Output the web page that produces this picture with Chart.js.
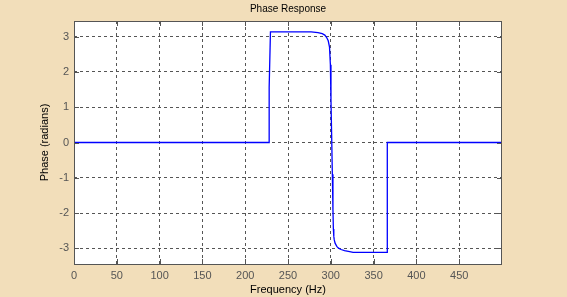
<!DOCTYPE html>
<html>
<head>
<meta charset="utf-8">
<script src="https://cdn.jsdelivr.net/npm/chart.js@4"></script>
<style>
  html, body { margin:0; padding:0; background:#F2DEBA; }
  #wrap { width:567px; height:297px; }
</style>
</head>
<body>
<div id="wrap"><canvas id="phaseChart" width="567" height="297"></canvas></div>
<script>
// Phase response (Hz, radians)
const freqHz = [0, 228, 228, 229.5, 277, 285, 290, 293, 295, 297, 298.5, 299.5, 300.2, 301, 301.8, 302.5, 303, 303.5, 304, 305, 307, 309, 312, 316, 322, 326, 366, 366, 500];
const phaseRad = [0, 0, 1.56, 3.13, 3.13, 3.11, 3.08, 3.04, 2.98, 2.88, 2.7, 2.2, 1.2, 0.2, -0.9, -1.9, -2.45, -2.65, -2.75, -2.85, -2.94, -2.99, -3.03, -3.06, -3.09, -3.11, -3.11, 0, 0];
const xTicks = [0, 50, 100, 150, 200, 250, 300, 350, 400, 450];
const yTicks = [-3, -2, -1, 0, 1, 2, 3];

const FONT = 'Liberation Sans, Arial, sans-serif';

// white axes background
const plotBg = {
  id: 'plotBg',
  beforeDraw(chart){
    const {ctx, chartArea:a} = chart;
    ctx.save(); ctx.fillStyle = '#fff';
    ctx.fillRect(a.left, a.top, a.right-a.left, a.bottom-a.top);
    ctx.restore();
  }
};

// box round the plot with matlab style inward tick marks
const frame = {
  id: 'frame',
  afterDraw(chart){
    const {ctx, chartArea:a, scales} = chart;
    ctx.save();
    ctx.strokeStyle = '#555'; ctx.lineWidth = 1;
    ctx.strokeRect(Math.round(a.left)+0.5, Math.round(a.top)+0.5, Math.round(a.right-a.left)-1, Math.round(a.bottom-a.top));
    ctx.beginPath();
    xTicks.forEach(v=>{
      const px = Math.round(scales.x.getPixelForValue(v))+0.5;
      ctx.moveTo(px, a.bottom); ctx.lineTo(px, a.bottom-5);
      ctx.moveTo(px, a.top); ctx.lineTo(px, a.top+5);
    });
    yTicks.forEach(v=>{
      const py = Math.round(scales.y.getPixelForValue(v))+0.5;
      ctx.moveTo(a.left, py); ctx.lineTo(a.left+5, py);
      ctx.moveTo(a.right, py); ctx.lineTo(a.right-5, py);
    });
    ctx.stroke();
    ctx.restore();
  }
};

const gridOpts = { color:'#555', drawTicks:false, lineWidth:1 };

new Chart(document.getElementById('phaseChart').getContext('2d'), {
  type: 'scatter',
  data: {
    datasets: [{
      data: freqHz.map((f,i)=>({ x:f, y:phaseRad[i] })),
      showLine: true,
      borderColor: '#0000FF',
      borderWidth: 1.3,
      pointRadius: 0,
      tension: 0
    }]
  },
  options: {
    responsive: false,
    animation: false,
    layout: { padding: { left:9, right:0, top:0, bottom:0 } },
    plugins: {
      legend: { display:false },
      tooltip: { enabled:false },
      title: {
        display: true, text: 'Phase Response', color:'#000',
        font: { family:FONT, size:10, weight:'normal' },
        padding: { top:3, bottom:6 }
      }
    },
    scales: {
      x: {
        type: 'linear', min:0, max:500,
        afterBuildTicks: s => { s.ticks = xTicks.map(v=>({ value:v })); },
        afterFit: s => { s.height = 33; },
        grid: gridOpts,
        border: { display:false, dash:[3,3] },
        ticks: { color:'#555', padding:5, font:{ family:FONT, size:11 }, maxRotation:0 },
        title: { display:true, text:'Frequency (Hz)', color:'#000', font:{ family:FONT, size:11 }, padding:{ top:0, bottom:0 } }
      },
      y: {
        type: 'linear', min:-3.44, max:3.44,
        afterBuildTicks: s => { s.ticks = yTicks.map(v=>({ value:v })); },
        afterFit: s => { s.width = 65; },
        grid: gridOpts,
        border: { display:false, dash:[3,3] },
        ticks: { color:'#555', padding:5, font:{ family:FONT, size:11 } },
        title: { display:true, text:'Phase (radians)', color:'#000', font:{ family:FONT, size:11 }, padding:{ top:29, bottom:0 } }
      },
      // empty right band so the plot sits where the reference has it
      pad: {
        type: 'linear', position:'right', display:true,
        afterFit: s => { s.width = 65; },
        grid: { display:false, drawTicks:false },
        border: { display:false },
        ticks: { display:false }
      }
    }
  },
  plugins: [plotBg, frame]
});
</script>
</body>
</html>
